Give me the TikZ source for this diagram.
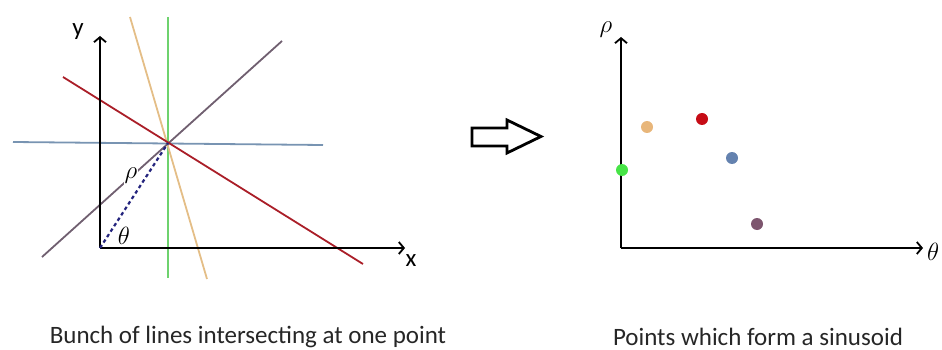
\documentclass[tikz,border=0pt]{standalone}
\usepackage{fontspec}
\setmainfont{Carlito}
\usepackage{tikz}
\usetikzlibrary{arrows.meta,calc,positioning}
\definecolor{lred}{RGB}{170,30,40}
\definecolor{lorange}{RGB}{228,190,135}
\definecolor{lgreen}{RGB}{110,210,110}
\definecolor{lblue}{RGB}{120,148,178}
\definecolor{lpurple}{RGB}{112,95,112}
\definecolor{lnavy}{RGB}{35,35,125}
\definecolor{dorange}{RGB}{232,182,122}
\definecolor{dred}{RGB}{198,12,22}
\definecolor{dblue}{RGB}{100,130,175}
\definecolor{dgreen}{RGB}{70,228,70}
\definecolor{dpurple}{RGB}{125,85,110}
\tikzset{
  axis/.style={line width=2pt,-{Straight Barb[length=5pt,width=12pt,line width=1.8pt]}},
  houghline/.style={line width=1.8pt},
  dot/.style={circle,inner sep=0pt,minimum size=12pt},
  axlabel/.style={font=\fontsize{25}{27}\selectfont},
  mathlabel/.style={font=\fontsize{30}{32}\selectfont},
  caption/.style={font=\fontsize{25}{28}\selectfont,text=black!85}
}
\begin{document}
\begin{tikzpicture}[x=1pt,y=-1pt]
  \useasboundingbox (0,0) rectangle (942,350);
  % image space
  \coordinate (o1) at (100,248);
  \coordinate (p) at (168,143);
  \coordinate (ytip) at (100,36);
  \coordinate (xtip) at (405,248);
  \coordinate (g1) at (168,17);   \coordinate (g2) at (168,278);
  \coordinate (b1) at (13,142);   \coordinate (b2) at (323,145);
  \coordinate (or1) at (130,17);  \coordinate (or2) at (207,279);
  \coordinate (pu1) at (42,257);  \coordinate (pu2) at (282,41);
  \coordinate (r1) at (63,77);    \coordinate (r2) at (363,264);
  \draw[houghline,lgreen]  (g1) -- (g2);
  \draw[houghline,lorange] (or1) -- (or2);
  \draw[houghline,lblue]   (b1) -- (b2);
  \draw[houghline,lpurple] (pu1) -- (pu2);
  \draw[houghline,lred]    (r1) -- (r2);
  \draw[axis] (o1) -- (ytip);
  \draw[axis] (o1) -- (xtip);
  \node[axlabel] (ylab) at (78,32) {y};
  \node[axlabel] (xlab) at (411,261) {x};
  \draw[lnavy,line width=2.2pt,dash pattern=on 3.5pt off 3pt] (o1) -- (p);
  \node[mathlabel,fill=white,inner sep=1pt] (rho) at (131,176) {$\rho$};
  \node[mathlabel] (theta) at (124,236) {$\theta$};
  % arrow
  \draw[line width=2.8pt,line join=miter] (472,128) -- (507,128) -- (507,120) -- (541,136.5)
    -- (507,153) -- (507,146) -- (472,146) -- cycle;
  % parameter space
  \coordinate (o2) at (621,248);
  \coordinate (rtip) at (621,37);
  \coordinate (ttip) at (923,248);
  \draw[axis] (o2) -- (rtip);
  \draw[axis] (o2) -- (ttip);
  \node[mathlabel] (rholab) at (606,30) {$\rho$};
  \node[mathlabel,anchor=west,inner sep=0pt] (thetalab) at (927,252) {$\theta$};
  \node[dot,fill=dorange] (dor) at (647,127) {};
  \node[dot,fill=dred]    (dr)  at (702,119) {};
  \node[dot,fill=dblue]   (db)  at (732,158) {};
  \node[dot,fill=dgreen]  (dg)  at (622,170) {};
  \node[dot,fill=dpurple] (dp)  at (757,224) {};
  % captions
  \node[caption] (cap1) at (248,337) {Bunch of lines intersecting at one point};
  \node[caption] (cap2) at (758,337) {Points which form a sinusoid};
\end{tikzpicture}
\end{document}
